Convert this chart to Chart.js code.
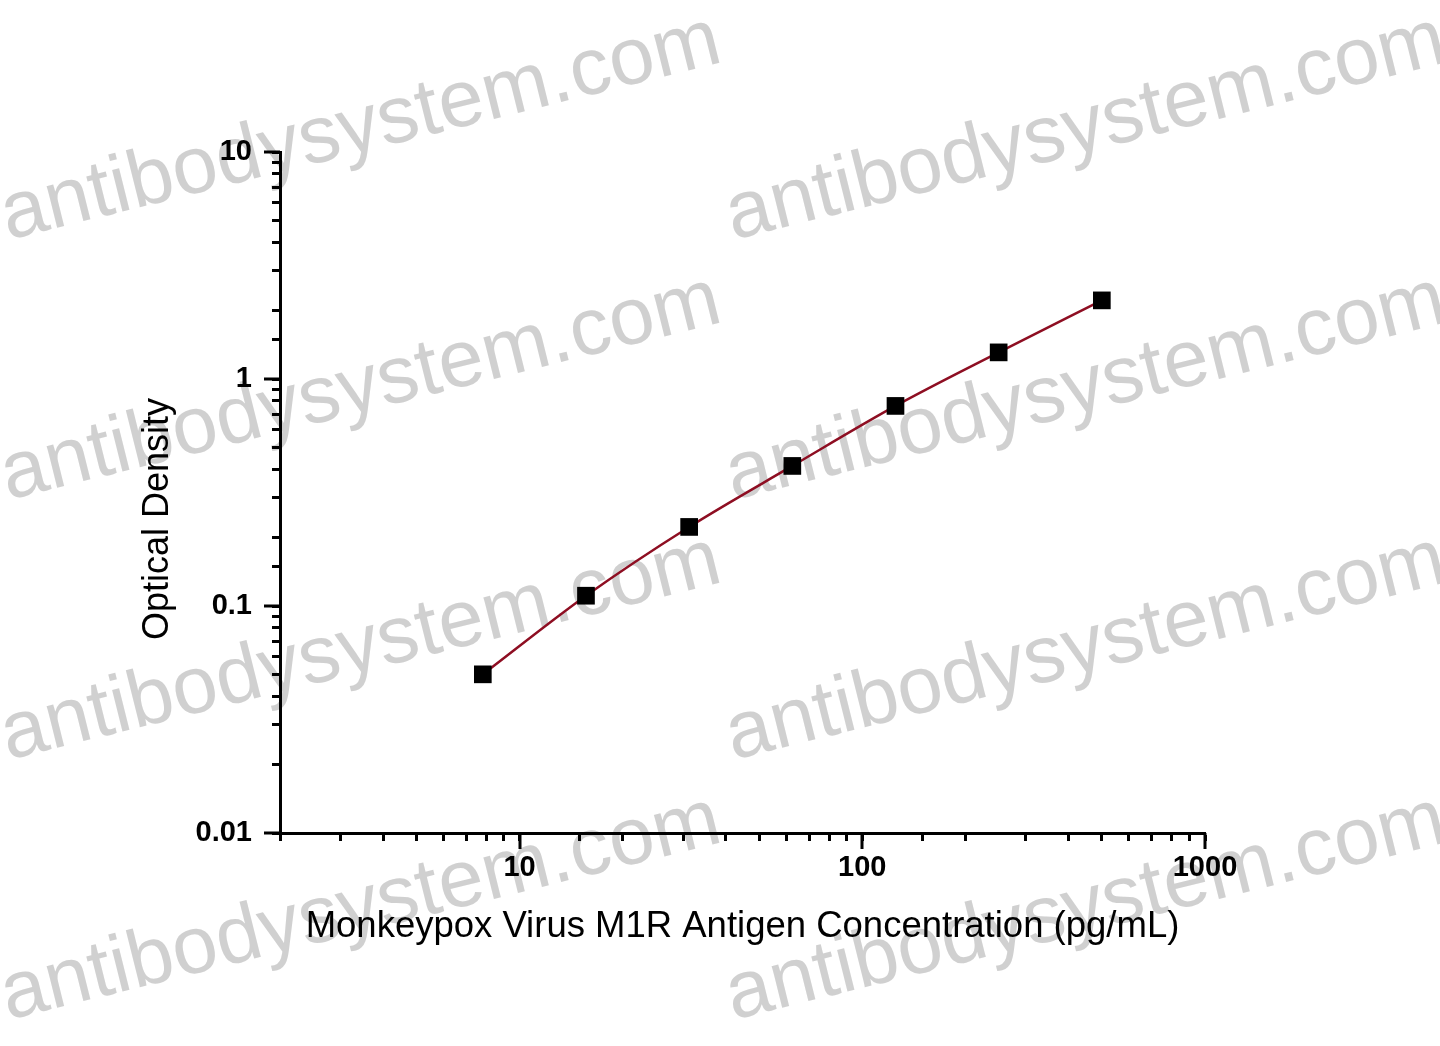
<!DOCTYPE html>
<html>
<head>
<meta charset="utf-8">
<script src="https://cdn.jsdelivr.net/npm/chart.js@4"></script>
<style>
  html, body { margin: 0; padding: 0; background: #ffffff; }
  #wrap { width: 1440px; height: 1046px; position: relative; }
</style>
</head>
<body>
<div id="wrap"><canvas id="c" width="1440" height="1046"></canvas></div>
<script>
// ---- data ----
const concentrations = [7.8125, 15.625, 31.25, 62.5, 125, 250, 500];   // pg/mL
const opticalDensity = [0.050, 0.111, 0.223, 0.414, 0.761, 1.31, 2.22];
const xMajorTicks = [10, 100, 1000];
const yMajorTicks = [0.01, 0.1, 1, 10];
const xTitle = 'Monkeypox Virus M1R Antigen Concentration (pg/mL)';
const yTitle = 'Optical Density';
const watermarkText = 'antibodysystem.com';

const FONT = '"Liberation Sans", Arial, Helvetica, sans-serif';

function isPow10(v) {
  const l = Math.log10(v);
  return Math.abs(l - Math.round(l)) < 1e-9;
}

const watermarkPlugin = {
  id: 'watermark',
  beforeDraw(chart) {
    const ctx = chart.ctx;
    ctx.save();
    ctx.fillStyle = 'rgba(200,200,200,0.85)';
    ctx.font = '81px ' + FONT;
    ctx.textBaseline = 'alphabetic';
    ctx.textAlign = 'left';
    const cols = [8, 733];
    const rows = [240, 500, 760, 1020];
    cols.forEach(cx => rows.forEach(cy => {
      ctx.save();
      ctx.translate(cx, cy);
      ctx.rotate(-14 * Math.PI / 180);
      ctx.fillText(watermarkText, 0, 0);
      ctx.restore();
    }));
    ctx.restore();
  }
};

const extrasPlugin = {
  id: 'extras',
  afterDraw(chart) {
    const ctx = chart.ctx;
    const xs = chart.scales.x, ys = chart.scales.y;
    const area = chart.chartArea;
    ctx.save();
    ctx.strokeStyle = '#000';
    ctx.lineWidth = 3;
    ctx.beginPath();
    xMajorTicks.forEach(v => {
      const px = Math.round(xs.getPixelForValue(v));
      ctx.moveTo(px, area.bottom);
      ctx.lineTo(px, area.bottom + 16);
    });
    yMajorTicks.forEach(v => {
      const py = Math.round(ys.getPixelForValue(v));
      ctx.moveTo(area.left, py);
      ctx.lineTo(area.left - 16, py);
    });
    ctx.stroke();
    // y axis title
    ctx.fillStyle = '#000';
    ctx.font = '36px ' + FONT;
    ctx.textAlign = 'center';
    ctx.textBaseline = 'middle';
    ctx.translate(158, 519);
    ctx.rotate(-Math.PI / 2);
    ctx.fillText(yTitle, 0, 0);
    ctx.restore();
  }
};

new Chart(document.getElementById('c'), {
  type: 'line',
  data: {
    datasets: [{
      data: concentrations.map((x, i) => ({ x: x, y: opticalDensity[i] })),
      borderColor: '#8e0e22',
      borderWidth: 2.5,
      backgroundColor: '#000',
      pointBackgroundColor: '#000',
      pointBorderColor: '#000',
      pointStyle: 'rect',
      pointRadius: 12.5,
      pointBorderWidth: 0,
      cubicInterpolationMode: 'monotone',
      fill: false
    }]
  },
  options: {
    responsive: false,
    animation: false,
    events: [],
    layout: { padding: { top: 152, right: 235, left: 0, bottom: 0 } },
    plugins: { legend: { display: false }, tooltip: { enabled: false } },
    scales: {
      x: {
        type: 'logarithmic',
        min: 2,
        max: 1000,
        afterFit(s) { s.height = 213; },
        border: { display: true, color: '#000', width: 3 },
        grid: { display: true, drawOnChartArea: false, drawTicks: true, tickLength: 8, tickWidth: 3, tickColor: '#000' },
        ticks: {
          autoSkip: false,
          maxRotation: 0,
          padding: 10,
          color: '#000',
          font: { family: FONT, size: 29, weight: 'bold' },
          callback: (v) => isPow10(v) ? String(Math.round(v)) : ''
        },
        title: {
          display: true,
          text: xTitle,
          color: '#000',
          font: { family: FONT, size: 36.5 },
          padding: { top: 0, bottom: 97 }
        }
      },
      y: {
        type: 'logarithmic',
        min: 0.01,
        max: 10,
        afterFit(s) { s.width = 280; },
        border: { display: true, color: '#000', width: 3 },
        grid: { display: true, drawOnChartArea: false, drawTicks: true, tickLength: 8, tickWidth: 3, tickColor: '#000' },
        ticks: {
          autoSkip: false,
          padding: 20,
          color: '#000',
          font: { family: FONT, size: 29, weight: 'bold' },
          callback: (v) => {
            if (!isPow10(v)) return '';
            const l = Math.round(Math.log10(v));
            return l >= 0 ? String(Math.pow(10, l)) : v.toFixed(-l);
          }
        }
      }
    }
  },
  plugins: [watermarkPlugin, extrasPlugin]
});
</script>
</body>
</html>
